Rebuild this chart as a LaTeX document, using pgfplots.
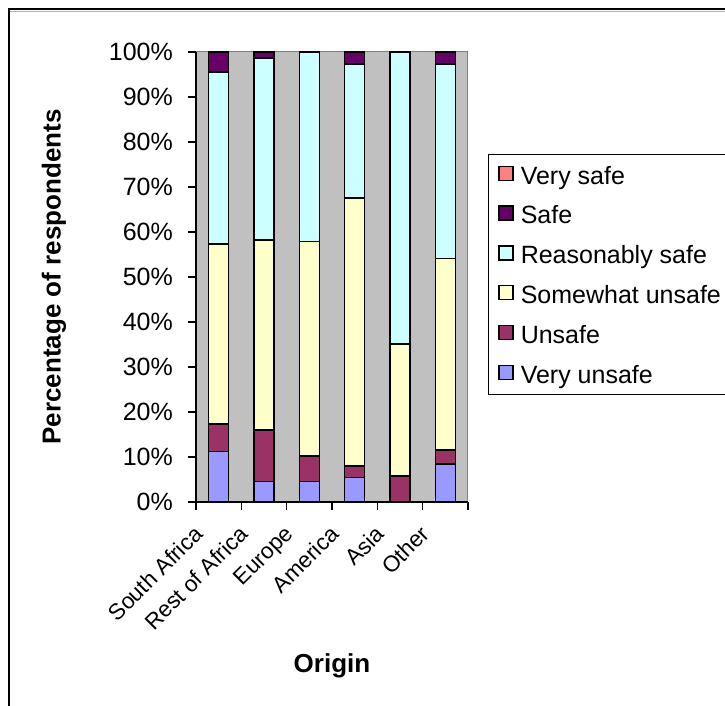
\documentclass[border=0pt]{standalone}
\usepackage{pgfplots}
\pgfplotsset{compat=1.18}
\usepackage{fontspec}
\setmainfont{Liberation Sans}
\definecolor{cVU}{HTML}{9999FF}
\definecolor{cU}{HTML}{993366}
\definecolor{cSU}{HTML}{FFFFCC}
\definecolor{cRS}{HTML}{CCFFFF}
\definecolor{cS}{HTML}{660066}
\definecolor{cVS}{HTML}{FF8080}
\definecolor{bggray}{HTML}{C0C0C0}
\definecolor{framegray}{HTML}{808080}
\pgfplotsset{
  mybar/.style={fill=#1, draw=black, line width=1.5pt,
    legend image code/.code={\draw[fill=#1, draw=black, line width=1.3pt] (0pt,-4.6pt) rectangle (14pt,9.4pt);}},
}
\begin{document}
\begin{tikzpicture}[x=1pt,y=1pt]
\path[use as bounding box] (0,0) rectangle (725,706);
\draw[line width=2pt] (8.5,0) -- (8.5,697) -- (725,697);
\draw[gray!60, line width=1pt] (9.5,694.5) -- (725,694.5);
\begin{axis}[
  at={(196pt,204pt)}, anchor=south west,
  scale only axis, width=272pt, height=450pt,
  ybar stacked, bar width=20pt,
  xmin=-0.5, xmax=5.5, ymin=0, ymax=100,
  axis x line*=bottom, axis y line*=left,
  axis line style={black, line width=1.3pt, -},
  axis background/.style={fill=bggray, draw=framegray, line width=1pt},
  tick align=outside,
  major tick length=8pt,
  tick style={black, line width=1.3pt},
  ytick={0,10,...,100},
  yticklabel={\pgfmathprintnumber{\tick}\%},
  yticklabel style={inner sep=0pt, xshift=-15pt},
  xtick={-0.5,0.5,1.5,2.5,3.5,4.5,5.5},
  xticklabels={,,,,,,},
  extra x ticks={0,1,2,3,4,5},
  extra x tick labels={South Africa,Rest of Africa,Europe,America,Asia,Other},
  extra x tick style={major tick length=0pt,
    tick label style={font=\fontsize{22.5}{26}\selectfont, xshift=-26pt, yshift=-22pt, rotate=45, anchor=north east, inner sep=0pt}},
  /pgf/number format/assume math mode=true,
  tick label style={font=\fontsize{25}{29}\selectfont},
  xlabel={\textbf{Origin}},
  ylabel={\textbf{Percentage of respondents}},
  label style={font=\fontsize{26}{30}\selectfont},
  xlabel style={at={(axis description cs:0.5,-0.3644)}, anchor=center},
  ylabel style={at={(axis description cs:-0.522,0.5)}, anchor=center},
  reverse legend,
  legend cell align=left,
  legend style={at={(axis description cs:1.0735,0.7733)}, anchor=north west,
    draw=black, line width=1pt, font=\fontsize{25}{29}\selectfont,
    inner xsep=10pt, inner ysep=11pt, row sep=21.3pt,
    nodes={text height=17pt, text depth=0pt, inner sep=0pt},
    /tikz/every odd column/.style={column sep=7pt}},
]
\addplot+[mybar=cVU] coordinates {(0,11.2) (1,4.5) (2,4.5) (3,5.4) (4,0) (5,8.4)};
\addplot+[mybar=cU] coordinates {(0,6.1) (1,11.5) (2,5.7) (3,2.6) (4,5.8) (5,3.2)};
\addplot+[mybar=cSU] coordinates {(0,40.0) (1,42.2) (2,47.7) (3,59.5) (4,29.3) (5,42.5)};
\addplot+[mybar=cRS] coordinates {(0,38.2) (1,40.5) (2,42.1) (3,29.8) (4,64.9) (5,43.2)};
\addplot+[mybar=cS] coordinates {(0,4.5) (1,1.3) (2,0) (3,2.7) (4,0) (5,2.7)};
\addplot+[mybar=cVS] coordinates {(0,0) (1,0) (2,0) (3,0) (4,0) (5,0)};
\legend{Very unsafe,Unsafe,Somewhat unsafe,Reasonably safe,Safe,Very safe}
\end{axis}
\end{tikzpicture}
\end{document}
